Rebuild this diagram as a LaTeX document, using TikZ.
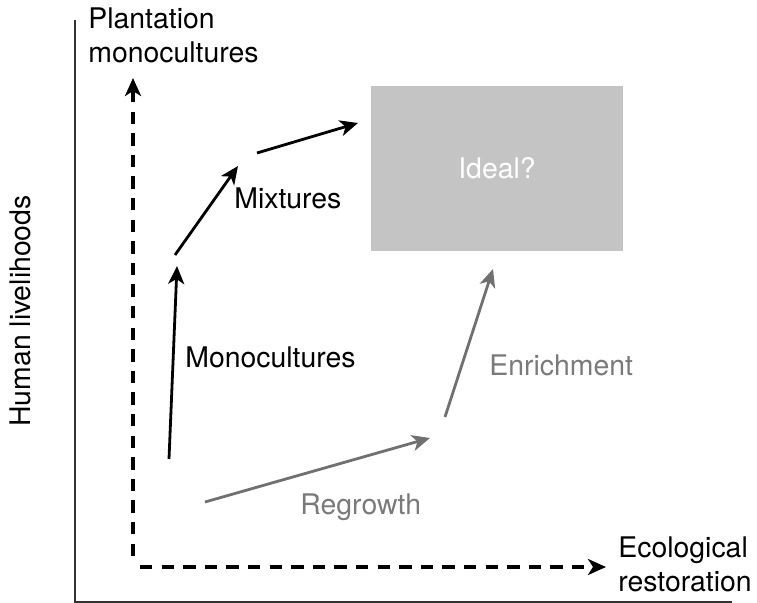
\documentclass[tikz,border=0pt]{standalone}
\usepackage{fontspec}
\setmainfont{TeX Gyre Heros}
\usepackage{tikz}
\usetikzlibrary{arrows.meta, positioning}

\definecolor{arrowgrey}{HTML}{707070}
\definecolor{labelgrey}{HTML}{7A7A7A}
\definecolor{boxgrey}{HTML}{C4C4C4}

\begin{document}
\begin{tikzpicture}[
      x=0.5pt, y=-0.5pt,
      every node/.style={
        font=\fontsize{14.2}{17}\selectfont,
        inner sep=0pt
      },
      axisline/.style={
        line width=0.6pt,
        draw=black!80
      },
      dashaxis/.style={
        line width=1.8pt,
        dash pattern=on 6.2pt off 4.6pt,
        -{Stealth[length=9pt, width=8pt, inset=2.5pt]}
      },
      arrow/.style={
        line width=1.4pt,
        -{Stealth[length=9pt, width=8pt, inset=2.5pt]}
      },
      greyarrow/.style={
        arrow,
        draw=arrowgrey
      },
      greylabel/.style={
        text=labelgrey
      },
      idealbox/.style={
        fill=boxgrey,
        minimum width=126pt,
        minimum height=82.5pt,
        text=white
      },
      node distance=6pt
    ]
    \useasboundingbox (0,0) rectangle (757,603);

    % Axes
    \coordinate (origin) at (75,602);
    \coordinate (yTop) at (75,20);
    \coordinate (xEnd) at (732,602);
    \draw [axisline] (yTop) -- (origin) -- (xEnd);

    \node (livelihoods) [rotate=90, anchor=base] at (31,311) {Human livelihoods};

    % Dashed directions
    \coordinate (yStart) at (133,556);
    \coordinate (yTip) at (133,78);
    \coordinate (xStart) at (140,567);
    \coordinate (xTip) at (606,567);
    \draw [dashaxis] (yStart) -- (yTip);
    \draw [dashaxis] (xStart) -- (xTip);

    \node (plantation) [anchor=base west] at (88,29) {Plantation};
    \node (plantationMono) [anchor=base west] at (88,63) {monocultures};
    \node (ecological) [anchor=base west] at (618,558) {Ecological};
    \node (restoration) [anchor=base west] at (618,592) {restoration};

    % Ideal Box
    \node (ideal) [idealbox] at (497,168.5) {Ideal?};

    % Plantation path
    \coordinate (monoStart) at (169,459);
    \coordinate (monoTip) at (177,266);
    \coordinate (mixStart) at (175,255);
    \coordinate (mixTip) at (238,166);
    \coordinate (idealStart) at (257,153);
    \coordinate (idealTip) at (358,123);
    \draw [arrow] (monoStart) -- (monoTip);
    \draw [arrow] (mixStart) -- (mixTip);
    \draw [arrow] (idealStart) -- (idealTip);

    \node (monocultures) [anchor=base west] at (185,368) {Monocultures};
    \node (mixtures) [anchor=base west] at (234,209) {Mixtures};

    % Restoration path
    \coordinate (regrowthStart) at (205,502);
    \coordinate (regrowthTip) at (430,438);
    \coordinate (enrichStart) at (445,417);
    \coordinate (enrichTip) at (493,269);
    \draw [greyarrow] (regrowthStart) -- (regrowthTip);
    \draw [greyarrow] (enrichStart) -- (enrichTip);

    \node (regrowth) [greylabel, anchor=base west] at (300,515) {Regrowth};
    \node (enrichment) [greylabel, anchor=base west] at (489,376) {Enrichment};

    \end{tikzpicture}
\end{document}
